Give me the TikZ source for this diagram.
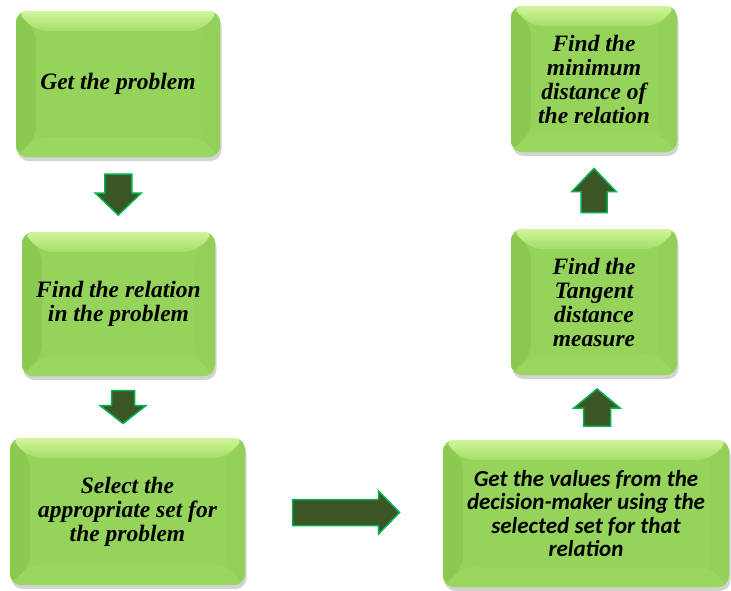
\documentclass[tikz,border=0pt]{standalone}
\usepackage{fontspec}
\newfontfamily\tnrfont{Liberation Serif}
\newfontfamily\calfont{Carlito}
\usetikzlibrary{calc,shadows}
\definecolor{boxbase}{HTML}{95D35A}
\definecolor{boxtop}{HTML}{D2F59C}
\definecolor{boxtopin}{HTML}{A3DD68}
\definecolor{boxleft}{HTML}{8BC950}
\definecolor{boxright}{HTML}{92D057}
\definecolor{boxbottom}{HTML}{9AD761}
\definecolor{arrfill}{HTML}{3B5524}
\definecolor{arredge}{HTML}{00B050}
\tikzset{
  greenbox/.style={rectangle, rounded corners=11pt, inner sep=0pt,
    drop shadow={opacity=0.35, shadow xshift=1.5pt, shadow yshift=-4pt},
    fill=boxbase, align=center, text=black,
    path picture={
      \coordinate (NW) at (path picture bounding box.north west);
      \coordinate (NE) at (path picture bounding box.north east);
      \coordinate (SW) at (path picture bounding box.south west);
      \coordinate (SE) at (path picture bounding box.south east);
      \fill[boxleft] (NW) -- ($(NW)+(20pt,-20pt)$) -- ($(SW)+(20pt,20pt)$) -- (SW) -- cycle;
      \fill[boxright] (NE) -- ($(NE)+(-20pt,-20pt)$) -- ($(SE)+(-20pt,20pt)$) -- (SE) -- cycle;
      \fill[boxbottom] (SW) -- ($(SW)+(20pt,20pt)$) -- ($(SE)+(-20pt,20pt)$) -- (SE) -- cycle;
      \shade[top color=boxtop, bottom color=boxtopin] (NW) -- ($(NW)+(20pt,-20pt)$) -- ($(NE)+(-20pt,-20pt)$) -- (NE) -- cycle;
      \fill[boxbase] ($(NW)+(20pt,-20pt)$) rectangle ($(SE)+(-20pt,20pt)$);
    }},
  serifbox/.style={greenbox, font=\tnrfont\fontsize{23.5}{24}\selectfont\bfseries\itshape},
  sansbox/.style={greenbox, font=\calfont\fontsize{23}{23.5}\selectfont\bfseries\itshape},
  arrowsty/.style={fill=arrfill, draw=arredge, line width=1.5pt, line join=miter},
  pics/blockarrow/.style n args={4}{code={
    \draw[arrowsty] (-#1/2,-#2/2) -- (#1/2-#4,-#2/2) -- (#1/2-#4,-#3/2) -- (#1/2,0)
      -- (#1/2-#4,#3/2) -- (#1/2-#4,#2/2) -- (-#1/2,#2/2) -- cycle;
  }}
}
\begin{document}
\begin{tikzpicture}[x=1pt,y=-1pt]
\useasboundingbox (0,0) rectangle (731,590);
\node[serifbox, minimum width=204pt, minimum height=146pt] (b1) at (118,84) {Get the problem};
\node[serifbox, minimum width=193pt, minimum height=144pt] (b2) at (118.5,304) {Find the relation\\in the problem};
\node[serifbox, minimum width=235pt, minimum height=147pt] (b3) at (127.5,511.5) {Select the\\appropriate set for\\the problem};
\node[sansbox, minimum width=286pt, minimum height=147pt] (b4) at (586,513.5) {Get the values from the\\decision-maker using the\\selected set for that\\relation};
\node[serifbox, minimum width=166pt, minimum height=146pt] (b5) at (594,302) {Find the\\Tangent\\distance\\measure};
\node[serifbox, minimum width=166pt, minimum height=146pt] (b6) at (594,79) {Find the\\minimum\\distance of\\the relation};
\coordinate (a1) at ($(b1.south)!0.5!(b2.north)$);
\coordinate (a2) at ($(b2.south)!0.5!(b3.north)$);
\coordinate (a3) at ($(b3.east)!0.5!(b4.west)+(2,0)$);
\coordinate (a4) at ($(b4.north)!0.5!(b5.south)+(7,0)$);
\coordinate (a5) at ($(b5.north)!0.5!(b6.south)$);
\pic[rotate=-90] at (a1) {blockarrow={41}{27}{46}{22}};
\pic[rotate=-90] at (a2) {blockarrow={33}{23}{46}{18}};
\pic at (a3) {blockarrow={107}{26}{43}{21}};
\pic[rotate=90] at (a4) {blockarrow={37}{27}{46}{19}};
\pic[rotate=90] at (a5) {blockarrow={44}{26}{44}{23}};
\end{tikzpicture}
\end{document}
